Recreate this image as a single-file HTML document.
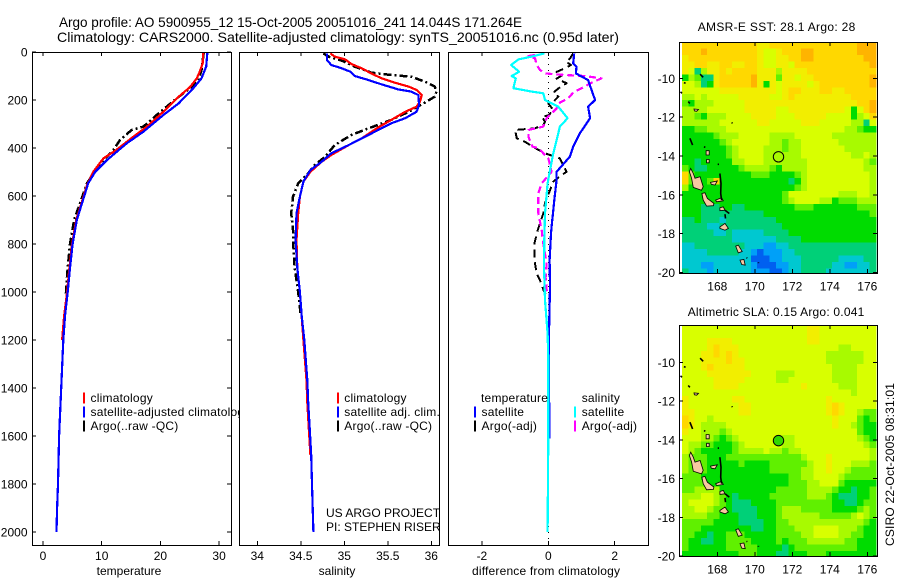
<!DOCTYPE html>
<html>
<head>
<meta charset="utf-8">
<title>Argo profile chart</title>
<style>
html,body{margin:0;padding:0;background:#fff;}
svg{display:block;}
text{font-family:"Liberation Sans",sans-serif;font-size:12px;fill:#000;}
</style>
</head>
<body>
<svg id="chart" xmlns="http://www.w3.org/2000/svg" width="900" height="580" viewBox="0 0 900 580">
<defs>
<clipPath id="clip-map1"><rect x="682" y="42" width="195" height="231"/></clipPath>
<clipPath id="clip-map2"><rect x="682" y="325" width="195" height="231"/></clipPath>
</defs>
<rect x="0" y="0" width="900" height="580" fill="#fff"/>
<g id="layer"></g>
</svg>
<script>
// ---- depth ticks and value ticks ----
const depthTicks=[0,200,400,600,800,1000,1200,1400,1600,1800,2000];
const tempTicks=[0,10,20,30];
const salTicks=[34,34.5,35,35.5,36];
const salTickLabels=['34','34.5','35','35.5','36'];
const diffTicks=[-2,0,2];
const lonTicks=[168,170,172,174,176];
const latTicks=[-10,-12,-14,-16,-18,-20];

// ---- temperature panel ----
const tempClimDepth=[0,47,82,110,147,193,249,311,353,408,443,498,554,603,700,800,900,1000,1100,1200];
const tempClimVal=[27.3,27.2,26.7,26.2,25.0,22.8,20.5,17.7,15.4,12.5,10.3,8.6,7.5,6.9,5.65,4.95,4.5,4.1,3.6,3.25];
const tempSatDepth=[0,61,110,151,214,263,332,380,450,499,547,610,700,800,900,1000,1100,1200,1400,1600,1800,1900,2000];
const tempSatVal=[28.0,27.8,27.0,25.6,23.1,20.5,17.1,14.3,10.9,8.9,7.7,6.9,5.75,5.05,4.6,4.2,3.75,3.45,3.1,2.75,2.55,2.4,2.3];
const tempArgoDepth=[0,75,117,151,193,249,311,325,367,408,450,505,547,610,700,800,900,950,1010];
const tempArgoVal=[27.4,27.0,26.5,25.0,22.8,20.0,17.1,15.1,13.1,12.0,10.3,8.6,7.5,6.6,5.3,4.6,4.2,4.05,3.9];

// ---- salinity panel ----
const salClimDepth=[6,19,31,50,68,89,110,128,144,158,179,207,228,249,283,314,360,388,429,457,499,540,603,672,783,900,1000,1200,1367,1460,1554,1680];
const salClimVal=[34.84,34.89,35.01,35.08,35.20,35.31,35.43,35.58,35.74,35.83,35.89,35.87,35.83,35.70,35.54,35.39,35.20,35.05,34.85,34.74,34.61,34.53,34.49,34.47,34.45,34.46,34.49,34.53,34.565,34.575,34.59,34.61];
const salSatDepth=[6,33,54,68,82,100,117,135,156,165,179,221,249,276,297,325,360,388,422,457,492,540,603,672,783,900,1000,1100,1200,1367,1460,1554,1680,1817,1942,2000];
const salSatVal=[34.80,34.80,34.85,34.97,35.07,35.12,35.28,35.43,35.62,35.77,35.85,35.86,35.83,35.70,35.54,35.39,35.20,35.05,34.85,34.74,34.61,34.53,34.49,34.45,34.44,34.46,34.49,34.51,34.54,34.575,34.585,34.60,34.62,34.63,34.64,34.645];
const salArgoDepth=[6,19,36,61,86,96,103,124,144,165,186,214,249,283,318,346,388,436,471,512,547,603,672,742,783,900,1000,1100];
const salArgoVal=[34.76,34.82,34.97,35.12,35.31,35.54,35.77,35.93,36.04,36.06,36.04,35.91,35.74,35.54,35.28,35.08,34.89,34.78,34.66,34.57,34.47,34.41,34.39,34.41,34.41,34.43,34.47,34.50];

// ---- difference panel ----
const dtSatDepth=[6,47,61,89,117,158,200,228,276,339,394,436,499,533,617,728,756,867,978,1172,1300,1610];
const dtSatVal=[.78,.75,.85,.83,1.2,1.3,1.41,1.2,1.26,.95,.75,.65,.25,.25,.18,.10,.08,.04,.05,.02,.02,.03];
const dsSatDepth=[6,19,31,54,82,100,110,151,165,172,200,228,276,311,367,422,492,547,672,783,895,1034,1172,1284,1600,2000];
const dsSatVal=[-.12,-.5,-.9,-1.12,-.88,-1.1,-.98,-1.05,-.5,-.15,-.1,.3,.58,.35,.25,.15,.05,-.02,-.1,-.12,-.13,-.1,-.02,0,0,-.02];
const dtArgoDepth=[6,28,40,54,68,83,97,111,130,147,169,186,208,214,242,264,269,290,304,318,325,360,374,394,422,443,499,513,540,630,672,742,798,867,923,951,990,1020];
const dtArgoVal=[.75,.65,.53,.68,.5,.25,.42,.25,.55,.35,.15,.3,.15,0,.15,0,-.2,-.1,-.15,-.4,-1,-.95,-.7,-.48,-.1,.35,.55,.4,.15,-.1,-.15,-.32,-.42,-.42,-.35,-.25,-.15,-.05];
const dsArgoDepth=[12,17,26,54,75,89,96,100,110,128,151,169,193,211,235,256,276,311,325,353,394,401,443,499,547,589,672,742,783,881,940,990,1010];
const dsArgoVal=[-.4,-.6,-.4,-.35,-.25,-.1,.5,1.1,1.6,1.3,1.0,.75,.6,.35,.25,.1,-.05,-.15,-.6,-.6,-.48,-.3,0,.1,-.2,-.3,-.3,-.2,-.17,-.05,-.08,-.05,-.02];

// ---- map grids (colour level per 1/3 degree cell, north to south) ----
const sstRows=[
[8,8,8,8,8,8,8,8,8,8,8,8,10,10,8,8,8,8,8,8,8,8,8,8,8,8,8,8,9,9,9],
[8,8,8,9,8,8,8,8,8,8,8,8,10,7,7,10,8,8,8,9,9,8,8,8,8,8,8,8,9,9,9],
[10,8,8,8,8,8,8,8,8,8,8,8,10,7,7,10,10,8,8,9,9,8,8,8,8,8,8,8,8,9,9],
[10,10,8,8,10,10,8,8,10,10,8,8,10,7,7,10,10,7,8,8,8,8,8,8,8,8,8,8,8,8,9],
[10,7,3,6,10,10,8,10,8,8,8,8,10,10,10,6,10,10,10,10,8,8,8,8,8,8,8,8,8,8,8],
[4,6,5,3,3,10,8,8,8,8,8,9,10,10,10,5,10,10,7,10,10,8,8,8,8,8,8,8,8,8,9],
[7,7,6,3,4,10,8,8,8,8,8,9,10,4,10,7,10,10,10,10,7,10,8,8,8,8,8,8,8,8,9],
[7,7,7,7,7,7,10,10,10,10,10,10,10,10,10,7,10,8,8,10,10,10,8,8,10,10,8,8,8,8,8],
[6,6,7,6,7,7,7,7,7,10,10,10,10,10,7,7,10,8,10,10,10,10,10,10,10,10,10,8,8,8,8],
[5,4,6,6,6,7,7,7,7,7,10,10,10,10,10,10,10,10,10,10,10,10,10,10,10,10,10,10,8,8,9],
[6,6,6,6,7,7,7,7,7,7,10,10,10,10,10,7,7,10,10,10,10,10,10,10,10,10,7,4,7,8,9],
[6,6,5,4,6,6,6,7,7,7,7,10,10,10,10,7,7,7,10,10,10,10,10,7,7,7,7,4,6,7,8],
[6,6,6,6,6,6,7,7,7,7,7,7,10,10,7,7,7,7,7,10,10,10,7,7,7,7,7,6,6,3,7],
[4,4,5,5,6,6,6,7,7,7,7,7,7,7,7,7,7,7,7,7,7,7,7,7,7,7,6,6,5,4,4],
[4,4,4,4,4,5,6,6,6,7,7,7,7,7,6,6,6,6,7,7,7,7,7,7,6,6,6,6,6,6,6],
[4,4,4,4,4,4,5,6,7,7,7,7,7,7,6,6,5,6,6,7,7,7,7,7,7,6,6,6,6,6,6],
[4,4,4,4,4,4,4,5,6,7,7,7,7,6,6,6,5,6,6,7,7,7,7,7,7,7,6,6,6,6,6],
[4,4,4,4,4,4,4,5,6,7,7,7,7,6,6,6,6,6,6,7,7,7,7,7,7,7,7,6,6,7,6],
[4,4,3,4,4,4,4,4,6,6,7,7,7,6,6,6,6,6,6,6,7,7,7,7,7,7,7,7,7,6,5],
[5,4,3,3,4,4,4,4,4,5,6,6,6,6,5,4,6,6,6,6,7,7,7,7,7,7,7,7,7,6,6],
[8,5,4,4,4,4,4,4,4,4,4,5,5,5,4,4,4,4,5,6,7,7,7,7,7,7,7,7,7,7,6],
[8,5,4,4,5,8,4,4,4,4,4,4,4,4,4,4,4,3,4,6,7,7,7,7,7,7,7,7,7,7,6],
[6,4,4,4,4,4,4,4,4,4,4,4,4,4,4,4,4,4,5,6,7,7,7,7,7,7,7,7,7,7,6],
[4,4,4,4,4,4,4,4,4,4,4,4,4,4,4,4,5,7,7,7,7,7,7,7,7,6,6,6,7,7,6],
[4,4,4,4,4,4,4,4,4,4,4,4,4,4,4,4,5,6,7,7,7,7,6,6,4,5,5,5,6,6,6],
[4,4,4,3,3,3,4,4,3,3,4,4,4,4,4,4,4,4,5,5,5,4,4,4,4,4,4,4,5,5,5],
[4,4,4,3,3,3,3,3,3,3,3,3,3,4,4,4,4,4,4,4,4,4,4,4,4,4,4,4,4,4,5],
[3,3,4,3,3,3,2,3,3,3,3,3,3,3,3,4,4,4,4,4,4,4,4,4,4,4,4,4,4,4,4],
[3,3,3,3,2,2,3,3,3,3,3,3,3,3,3,3,4,4,4,4,4,4,4,4,4,4,4,4,4,4,4],
[3,3,3,3,3,2,2,3,2,2,2,2,2,3,3,3,3,4,4,4,4,4,4,4,4,4,4,4,4,4,4],
[3,3,3,3,3,3,3,3,2,2,2,2,2,2,2,3,3,3,3,4,4,4,4,4,4,4,4,4,4,4,4],
[2,2,3,3,3,3,3,3,3,3,2,2,2,1,1,2,2,3,3,3,3,3,3,3,3,3,3,3,3,3,3],
[2,2,2,2,3,3,3,3,3,2,2,1,0,1,1,1,2,2,3,3,3,3,3,3,3,3,3,3,3,3,3],
[2,2,2,2,2,2,2,2,2,2,2,0,0,0,1,1,2,2,2,3,3,3,3,3,3,2,2,2,2,3,3],
[2,2,2,1,1,2,2,2,2,2,2,1,0,0,0,1,1,2,2,3,3,3,3,3,2,2,1,1,2,2,3],
[3,2,2,2,1,2,2,2,2,2,2,1,1,1,0,0,1,2,2,3,3,3,3,2,2,2,2,2,2,2,3]
];
const slaRows=[
[7,7,7,7,7,7,7,7,7,7,7,7,7,7,7,7,7,7,7,7,10,10,7,7,7,7,7,7,7,7,7],
[7,7,7,7,7,7,7,7,7,7,7,7,7,7,7,7,7,7,7,7,10,10,7,7,7,7,7,7,7,7,7],
[7,7,7,7,10,10,10,10,7,7,7,7,7,7,7,7,7,7,7,7,10,10,7,7,7,7,7,7,7,7,7],
[7,7,7,7,10,8,10,10,10,7,7,7,7,7,7,7,7,7,7,7,7,7,7,7,7,6,6,7,7,7,7],
[7,7,7,10,10,8,10,8,10,7,7,7,7,7,7,7,7,7,7,7,7,7,7,6,6,6,6,6,6,7,7],
[7,7,7,10,10,10,10,8,10,10,7,7,7,7,7,7,7,7,7,7,7,7,7,6,6,6,6,6,6,7,7],
[7,7,7,10,8,10,10,10,10,10,7,7,7,7,7,7,7,7,7,7,7,7,7,7,6,6,6,6,7,7,7],
[7,7,7,7,10,10,10,10,10,10,10,7,7,7,7,6,6,6,7,7,7,7,7,7,6,6,6,6,7,7,7],
[7,7,7,7,7,10,10,10,10,10,7,7,7,7,7,6,6,7,7,7,7,7,7,7,6,6,6,6,7,7,7],
[7,7,7,7,7,10,10,10,10,7,7,7,7,7,7,7,7,7,7,10,7,7,7,7,7,6,6,6,7,7,7],
[7,7,7,7,7,7,7,7,7,7,7,7,7,7,7,7,7,7,7,7,7,7,7,7,7,7,7,6,7,7,7],
[10,7,7,7,7,7,7,7,10,10,7,7,7,7,7,7,7,7,7,7,7,7,7,10,7,7,7,7,7,7,7],
[10,7,7,7,7,7,7,7,7,10,10,7,7,7,7,7,7,7,7,7,7,7,7,10,8,10,7,7,7,7,7],
[10,10,7,7,7,7,7,7,7,10,10,7,7,7,7,7,7,7,7,7,7,7,7,10,8,10,7,7,6,5,5],
[8,10,7,7,6,7,7,7,7,7,7,7,7,7,7,7,7,7,7,7,7,7,7,7,10,7,7,7,5,4,5],
[8,10,7,6,6,6,6,7,7,7,7,7,7,7,7,7,7,7,7,7,7,7,7,7,10,7,7,6,5,4,4],
[10,7,7,6,6,6,5,6,7,7,7,7,7,7,7,7,7,7,7,7,7,7,7,7,7,7,7,7,5,4,4],
[7,7,7,6,6,5,4,5,6,7,7,7,7,7,7,7,6,6,7,7,7,7,7,7,7,7,7,7,6,5,4],
[7,6,6,5,5,4,4,4,5,6,7,7,7,7,7,7,6,6,7,7,7,7,7,7,7,7,7,7,7,6,5],
[7,6,5,4,4,4,4,4,5,6,6,6,6,7,6,6,5,6,6,7,7,7,7,7,7,7,7,7,7,7,6],
[6,5,5,5,4,4,4,5,5,5,5,5,5,5,5,5,5,5,5,6,7,7,7,10,7,7,7,7,7,7,6],
[6,5,5,5,4,4,4,4,4,5,4,4,4,4,5,5,5,5,5,5,6,7,7,10,7,7,7,6,6,6,5],
[6,5,5,5,4,4,4,4,4,4,4,4,4,4,5,5,5,5,5,6,6,7,7,10,7,7,6,5,5,5,5],
[5,5,5,4,4,4,4,4,4,4,4,4,4,4,4,4,4,5,5,6,6,7,7,7,7,6,5,5,5,5,5],
[5,5,5,5,4,4,4,4,4,4,4,4,4,4,4,4,4,5,5,5,6,6,7,7,7,5,4,4,4,4,4],
[5,5,6,6,6,6,4,4,4,4,4,4,4,4,4,5,5,5,5,5,6,6,6,6,5,4,4,3,4,4,5],
[6,6,6,7,7,6,5,4,3,4,4,4,4,4,5,5,5,5,5,5,6,6,6,5,4,3,3,3,4,4,5],
[6,7,7,7,7,6,5,4,3,3,3,4,4,4,4,5,5,5,5,5,5,5,5,5,4,4,3,3,4,5,5],
[6,6,7,7,6,5,5,4,3,3,3,3,4,4,4,5,6,6,6,5,5,5,5,5,4,4,4,4,5,6,5],
[6,6,6,6,5,5,4,4,4,3,3,3,4,4,4,5,6,6,6,6,6,6,5,5,5,5,5,6,7,6,5],
[5,5,5,5,5,4,4,4,4,3,3,3,3,4,4,5,5,6,6,6,6,6,6,6,6,6,6,6,6,5,4],
[5,5,5,4,4,4,4,4,4,4,4,3,3,4,4,5,5,5,6,6,6,7,7,7,7,6,6,6,5,4,4],
[5,5,4,4,3,4,4,5,5,5,4,4,4,4,4,5,5,5,5,6,6,7,7,7,7,6,6,5,5,4,4],
[5,4,4,3,3,4,4,5,5,5,5,4,4,4,4,5,4,5,5,5,6,6,6,6,6,6,5,5,4,4,4],
[5,4,4,4,4,4,4,5,5,5,5,5,4,4,4,4,3,4,5,5,5,5,5,5,5,5,5,5,4,4,4],
[4,4,4,4,4,4,4,4,4,5,5,5,4,4,4,3,3,4,4,4,5,5,5,4,4,4,4,4,4,4,4]
];
const levelColors=['#0060f0','#00a0f8','#00c8d0','#00d078','#00dc00','#60f000','#a8fa00','#d8ff00','#ffd800','#ffb400','#f2ee00'];

// ---- float position ----
const floatLon=171.264;
const floatLat=-14.044;

// ---- coast outlines as lon/lat pairs ----
const islandShapes=[
[[166.58,-14.64],[166.72,-14.9],[166.81,-15.15],[167.08,-15.07],[167.25,-15.58],[167.16,-15.76],[166.72,-15.62],[166.63,-15.15],[166.51,-14.81]],
[[167.18,-15.93],[167.34,-15.89],[167.47,-16.19],[167.82,-16.44],[167.79,-16.56],[167.43,-16.58],[167.25,-16.27]],
[[168.14,-17.65],[168.41,-17.47],[168.59,-17.73],[168.41,-17.82],[168.14,-17.73]],
[[167.91,-16.27],[168.23,-16.15],[168.32,-16.31],[167.96,-16.36]],
[[167.64,-15.36],[168,-15.29],[167.88,-15.5],[167.68,-15.46]],
[[168.98,-18.64],[169.12,-18.59],[169.33,-18.92],[169.12,-18.99]],
[[169.21,-19.36],[169.42,-19.33],[169.49,-19.62],[169.3,-19.59]],
[[167.4,-13.73],[167.57,-13.73],[167.57,-13.95],[167.4,-13.95]],
[[167.43,-14.18],[167.57,-14.18],[167.57,-14.35],[167.43,-14.35]],
[[168.14,-16.67],[168.32,-16.62],[168.41,-16.79],[168.14,-16.82]],
[[166.76,-11.58],[167,-11.6],[166.9,-11.7],[166.78,-11.68]]
];
const reefLines=[
[[168.14,-14.9],[168.2,-15.41],[168.18,-15.93],[168.23,-16.27]],
[[168.41,-16.79],[168.64,-16.96]],
[[166.54,-13.09],[166.68,-13.44]],
[[167.08,-9.79],[167.25,-9.95]],
[[166.22,-10.22],[166.31,-10.26]],
[[166.04,-10.7],[166.12,-10.77]],
[[166.45,-11.2],[166.54,-11.29]],
[[168.78,-12.27],[168.8,-12.32]],
[[167.29,-13.52],[167.36,-13.56]],
[[168.02,-14.43],[168.09,-14.43]],
[[168.41,-17.0],[168.44,-17.22]],
[[170.19,-19.48],[170.2,-19.52]],
[[169.56,-19.24],[169.6,-19.26]]
];

// ---- axis functions ----
const yDepth=d=>52+d*0.24;
const xTemp=t=>43+t*5.87;
const xSal=s=>257.3+(s-34)*87;
const xDiff=v=>548.3+v*33.2;
const xLon=l=>717.3+(l-168)*18.75;
const yLat1=l=>78.3+(-10-l)*19.42;
const yLat2=l=>362.3+(-10-l)*19.37;

const NS='http://www.w3.org/2000/svg';
const layer=document.getElementById('layer');

function make(tag,name,attrs,parent){
  const el=document.createElementNS(NS,tag);
  
  
  for(const k in attrs){el.setAttribute(k,attrs[k]);}
  (parent||layer).appendChild(el);
  return el;
}
function label(name,str,x,y,anchor,extra){
  const t=make('text',name,Object.assign({x:x,y:y,'text-anchor':anchor||'start'},extra||{}));
  t.textContent=str;
  return t;
}
function frame(name,x0,y0,x1,y1){
  make('rect',name,{x:x0+.5,y:y0+.5,width:x1-x0,height:y1-y0,fill:'#fff',stroke:'none'});
}
function border(name,x0,y0,x1,y1){
  make('rect',name,{x:x0+.5,y:y0+.5,width:x1-x0,height:y1-y0,fill:'none',stroke:'#000','stroke-width':1,'shape-rendering':'crispEdges'});
}
function tick(name,x1,y1,x2,y2){
  make('line',name,{x1:x1,y1:y1,x2:x2,y2:y2,stroke:'#000','stroke-width':1,'shape-rendering':'crispEdges'});
}
function profile(name,xs,depths,xf,color,dash,width){
  const pts=depths.map((d,i)=>xf(xs[i]).toFixed(1)+','+yDepth(d).toFixed(1)).join(' ');
  const a={points:pts,fill:'none',stroke:color,'stroke-width':width||2,'shape-rendering':'crispEdges','stroke-linejoin':'round'};
  if(dash){a['stroke-dasharray']=dash;}
  make('polyline',name,a);
}
function legendBar(name,x,yc,color){
  make('rect',name,{x:x,y:yc-5.5,width:2,height:11,fill:color,'shape-rendering':'crispEdges'});
}
const legendStyle={style:'letter-spacing:.22px'};

// titles
label('title-line-1','Argo profile: AO 5900955_12 15-Oct-2005 20051016_241 14.044S 171.264E',59,27,'start',{textLength:463,lengthAdjust:'spacingAndGlyphs',style:'font-size:14px'});
label('title-line-2','Climatology: CARS2000. Satellite-adjusted climatology: synTS_20051016.nc (0.95d later)',57,42,'start',{textLength:562,lengthAdjust:'spacingAndGlyphs',style:'font-size:14px'});

// ---- temperature panel ----
frame('temperature-panel',32,52,231,545);
profile('temperature-argo-line',tempArgoVal,tempArgoDepth,xTemp,'#000','8 3 2 3',2.5);
profile('temperature-climatology-line',tempClimVal,tempClimDepth,xTemp,'#f00',null,2.2);
profile('temperature-satellite-line',tempSatVal,tempSatDepth,xTemp,'#00f',null,2.2);
depthTicks.forEach(d=>{
  tick('temperature-left-tick',32,yDepth(d),36,yDepth(d));
  tick('temperature-right-tick',227,yDepth(d),231,yDepth(d));
  label('depth-tick-label',String(d),27.5,yDepth(d)+4.5,'end');
});
tempTicks.forEach(t=>{
  tick('temperature-top-tick',xTemp(t),52,xTemp(t),56);
  tick('temperature-bottom-tick',xTemp(t),541,xTemp(t),545);
  label('temperature-tick-label',String(t),xTemp(t),560,'middle');
});
legendBar('legend-climatology-swatch',83,398,'#f00');
legendBar('legend-satellite-swatch',83,412,'#00f');
legendBar('legend-argo-swatch',83,426,'#000');
label('legend-climatology-label','climatology',90.5,402,'start',legendStyle);
label('legend-satellite-label','satellite-adjusted climatology',90.5,416,'start',legendStyle);
label('legend-argo-label','Argo(..raw -QC)',90.5,430,'start',legendStyle);
label('temperature-axis-title','temperature',129,575,'middle');

// ---- salinity panel ----
make('rect','salinity-panel',{x:239,y:46,width:201,height:500,fill:'#fff'});
profile('salinity-argo-line',salArgoVal,salArgoDepth,xSal,'#000','8 3 2 3',2.5);
profile('salinity-climatology-line',salClimVal,salClimDepth,xSal,'#f00',null,2.2);
profile('salinity-satellite-line',salSatVal,salSatDepth,xSal,'#00f',null,2.2);
salTicks.forEach((s,i)=>{
  tick('salinity-top-tick',xSal(s),52,xSal(s),56);
  tick('salinity-bottom-tick',xSal(s),541,xSal(s),545);
  label('salinity-tick-label',salTickLabels[i],xSal(s),560,'middle');
});
legendBar('salinity-legend-climatology-swatch',337,398,'#f00');
legendBar('salinity-legend-satellite-swatch',337,412,'#00f');
legendBar('salinity-legend-argo-swatch',337,426,'#000');
label('salinity-legend-climatology-label','climatology',344.3,402,'start',legendStyle);
label('salinity-legend-satellite-label','satellite adj. clim.',344.3,416,'start',legendStyle);
label('salinity-legend-argo-label','Argo(..raw -QC)',344.3,430,'start',legendStyle);
label('project-label','US ARGO PROJECT',326,517);
label('pi-label','PI: STEPHEN RISER',326,531);
label('salinity-axis-title','salinity',337,575,'middle');

// ---- difference panel ----
make('line','zero-reference-line',{x1:xDiff(0),y1:52,x2:xDiff(0),y2:545,stroke:'#000','stroke-width':1,'stroke-dasharray':'1 5','shape-rendering':'crispEdges'});
profile('temperature-argo-difference-line',dtArgoVal,dtArgoDepth,xDiff,'#000','8 5');
profile('salinity-argo-difference-line',dsArgoVal,dsArgoDepth,xDiff,'#f0f','7 4',2.2);
profile('temperature-satellite-difference-line',dtSatVal,dtSatDepth,xDiff,'#00f',null,2.2);
profile('salinity-satellite-difference-line',dsSatVal,dsSatDepth,xDiff,'#0ff',null,2.2);
diffTicks.forEach(v=>{
  tick('difference-top-tick',xDiff(v),52,xDiff(v),56);
  tick('difference-bottom-tick',xDiff(v),541,xDiff(v),545);
  label('difference-tick-label',String(v),xDiff(v),560,'middle');
});
label('difference-legend-temperature-heading','temperature',481,402,'start',legendStyle);
label('difference-legend-temperature-satellite-label','satellite',481.5,416,'start',legendStyle);
label('difference-legend-temperature-argo-label','Argo(-adj)',481.5,430,'start',legendStyle);
label('difference-legend-salinity-heading','salinity',581.7,402,'start',legendStyle);
label('difference-legend-salinity-satellite-label','satellite',581.7,416,'start',legendStyle);
label('difference-legend-salinity-argo-label','Argo(-adj)',581.7,430,'start',legendStyle);
legendBar('difference-legend-temperature-satellite-swatch',474,412,'#00f');
legendBar('difference-legend-temperature-argo-swatch',474,426,'#000');
legendBar('difference-legend-salinity-satellite-swatch',574,412,'#0ff');
legendBar('difference-legend-salinity-argo-swatch',574,426,'#f0f');
label('difference-axis-title','difference from climatology',472,575,'start',{textLength:148,lengthAdjust:'spacing'});

border('temperature-panel-frame',32,52,231,545);
border('salinity-panel-frame',239,52,439,545);
border('difference-panel-frame',448,52,648,545);

// ---- maps ----
const LON0=166.12;
const STEP=1/3;
function drawMap(prefix,rows,latTop,yLat,clipId,x0,y0,x1,y1){
  const g=make('g',prefix+'-cells',{'clip-path':'url(#'+clipId+')','shape-rendering':'crispEdges'});
  rows.forEach((row,r)=>{
    row.forEach((v,c)=>{
      const x=xLon(LON0+c*STEP), y=yLat(latTop-r*STEP);
      const w=xLon(LON0+(c+1)*STEP)-x, h=yLat(latTop-(r+1)*STEP)-y;
      make('rect',prefix+'-cell',{x:x.toFixed(2),y:y.toFixed(2),width:(w+.5).toFixed(2),height:(h+.5).toFixed(2),fill:levelColors[v]},g);
    });
  });
  islandShapes.forEach(s=>{
    make('polygon',prefix+'-island',{points:s.map(p=>xLon(p[0]).toFixed(1)+','+yLat(p[1]).toFixed(1)).join(' '),fill:'#f8c8a0',stroke:'#000','stroke-width':.8});
  });
  reefLines.forEach(s=>{
    make('polyline',prefix+'-coast-line',{points:s.map(p=>xLon(p[0]).toFixed(1)+','+yLat(p[1]).toFixed(1)).join(' '),fill:'none',stroke:'#000','stroke-width':1.6});
  });
  border(prefix+'-frame',x0,y0,x1,y1);
  lonTicks.forEach(l=>{
    tick(prefix+'-top-tick',xLon(l),y0,xLon(l),y0+4);
    tick(prefix+'-bottom-tick',xLon(l),y1-4,xLon(l),y1);
    label(prefix+'-longitude-label',String(l),xLon(l),y1+17.5,'middle');
  });
  latTicks.forEach(l=>{
    tick(prefix+'-left-tick',x0,yLat(l),x0+4,yLat(l));
    tick(prefix+'-right-tick',x1-4,yLat(l),x1,yLat(l));
    label(prefix+'-latitude-label',String(l),675,yLat(l)+4.5,'end');
  });
}
drawMap('sst-map',sstRows,-8.13,yLat1,'clip-map1',679,42,877,273);
drawMap('sla-map',slaRows,-8.08,yLat2,'clip-map2',679,325,877,556);

make('circle','sst-float-marker',{cx:xLon(floatLon),cy:yLat1(floatLat),r:5.2,fill:'none',stroke:'#000','stroke-width':1});
make('circle','sla-float-marker',{cx:xLon(floatLon),cy:yLat2(floatLat),r:5.2,fill:'#30d800',stroke:'#000','stroke-width':1});

label('sst-map-title','AMSR-E SST: 28.1  Argo: 28',697.7,31,'start',{textLength:157.6,lengthAdjust:'spacing'});
label('sla-map-title','Altimetric SLA: 0.15  Argo: 0.041',687.7,316,'start',{textLength:176.6,lengthAdjust:'spacing'});
label('timestamp-label','CSIRO 22-Oct-2005 08:31:01',0,0,'start',{transform:'translate(894,546) rotate(-90)',textLength:163,lengthAdjust:'spacing'});
</script>
</body>
</html>
